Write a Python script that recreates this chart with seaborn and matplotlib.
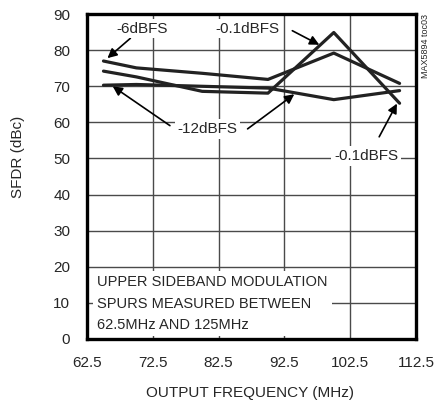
import pandas as pd
import matplotlib
matplotlib.use('Agg')
import matplotlib.pyplot as plt
import seaborn as sns

# data
freq = [65, 70, 80, 90, 100, 110]
sfdr_6dbfs = [77.0, 75.1, 73.6, 71.9, 79.2, 70.8]
sfdr_01dbfs = [74.2, 72.6, 68.6, 68.1, 84.9, 65.3]
sfdr_12dbfs = [70.3, 70.5, 70.0, 69.5, 66.3, 68.8]

x_ticks = [62.5, 72.5, 82.5, 92.5, 102.5, 112.5]
y_ticks = [0, 10, 20, 30, 40, 50, 60, 70, 80, 90]

data = pd.DataFrame({
    'freq': freq * 3,
    'sfdr': sfdr_6dbfs + sfdr_01dbfs + sfdr_12dbfs,
    'level': ['-6dBFS'] * 6 + ['-0.1dBFS'] * 6 + ['-12dBFS'] * 6,
})

sns.set_style('white')
plt.rcParams['font.family'] = ['Liberation Sans Narrow', 'Liberation Sans', 'DejaVu Sans']
fs = 10.5

fig = plt.figure(figsize=(4.44, 4.03), dpi=100)
ax = fig.add_axes([0.196, 0.159, 0.741, 0.806])

# grid drawn by hand so the label boxes can cover it while ticks stay on top
for xv in x_ticks:
    ax.axvline(xv, color='#4a4a4a', lw=1.0, zorder=1)
for yv in y_ticks:
    ax.axhline(yv, color='#4a4a4a', lw=1.0, zorder=1)

sns.lineplot(data=data, x='freq', y='sfdr', hue='level', palette=['#222222'] * 3,
             linewidth=2.3, legend=False, ax=ax, zorder=4)

ax.set_xlim(62.5, 112.5)
ax.set_ylim(0, 90)
ax.set_xticks(x_ticks)
ax.set_xticklabels(['62.5', '72.5', '82.5', '92.5', '102.5', '112.5'])
ax.set_yticks(y_ticks)
ax.set_axisbelow(False)
ax.tick_params(direction='in', length=4, width=1, color='#333333', labelsize=fs + 0.5)
ax.tick_params(axis='y', pad=12)
ax.tick_params(axis='x', pad=12)
for s in ax.spines.values():
    s.set_linewidth(2.4)
    s.set_color('black')
    s.set_zorder(5)

ax.set_xlabel('OUTPUT FREQUENCY (MHz)', fontsize=fs + 0.5)
ax.set_ylabel('SFDR (dBc)', fontsize=fs + 0.5)
ax.xaxis.set_label_coords(0.495, -0.145)
ax.yaxis.set_label_coords(-0.19, 0.56)

box = dict(facecolor='white', edgecolor='none', pad=2)
arrow = dict(arrowstyle='-|>', color='black', lw=1.2, mutation_scale=14, shrinkA=0, shrinkB=0)

ax.annotate('-6dBFS', xy=(65.6, 77.8), xytext=(70.8, 86.0), fontsize=fs + 0.5,
            ha='center', va='center', bbox=box, arrowprops=arrow, zorder=2)
ax.annotate('-0.1dBFS', xy=(97.8, 81.5), xytext=(86.9, 86.0), fontsize=fs + 0.5,
            ha='center', va='center', bbox=box, zorder=2)
ax.annotate('', xy=(97.8, 81.5), xytext=(93.7, 85.4), arrowprops=arrow, zorder=2)
ax.annotate('-12dBFS', xy=(66.4, 70.0), xytext=(80.8, 58.2), fontsize=fs + 0.5,
            ha='center', va='center', bbox=box, zorder=2)
ax.annotate('', xy=(66.4, 70.0), xytext=(75.1, 59.1), arrowprops=arrow, zorder=2)
ax.annotate('', xy=(94.0, 67.8), xytext=(86.9, 58.2), arrowprops=arrow, zorder=2)
ax.annotate('-0.1dBFS', xy=(109.6, 65.2), xytext=(104.9, 50.7), fontsize=fs + 0.5,
            ha='center', va='center', bbox=box, zorder=2)
ax.annotate('', xy=(109.6, 65.2), xytext=(106.9, 56.0), arrowprops=arrow, zorder=2)

ax.text(64.0, 9.8, 'UPPER SIDEBAND MODULATION\nSPURS MEASURED BETWEEN\n62.5MHz AND 125MHz',
        fontsize=fs, ha='left', va='center', linespacing=1.7,
        bbox=dict(facecolor='white', edgecolor='none', pad=3), zorder=2)

ax.text(1.03, 1.0, 'MAX5894 toc03', transform=ax.transAxes, rotation=90,
        fontsize=6.5, ha='center', va='top')

fig.savefig('out.png', dpi=100)
